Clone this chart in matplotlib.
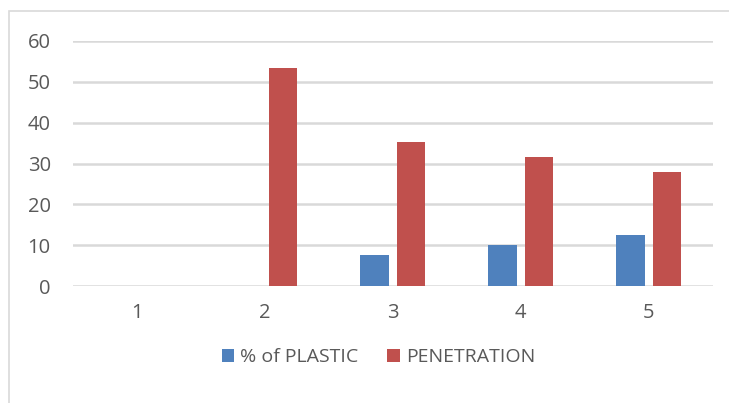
import matplotlib.pyplot as plt
import numpy as np
from matplotlib.patches import Rectangle

# chart data
categories = [1, 2, 3, 4, 5]
plastic_pct = [0, 0, 7.5, 10, 12.5]
penetration = [0, 53.3, 35.3, 31.6, 28.0]
series_names = ['% of PLASTIC', 'PENETRATION']

BLUE = '#4F81BD'
RED = '#C0504D'
TEXT = '#595959'
GRID = '#D9D9D9'

plt.rcParams['font.family'] = ['Open Sans', 'DejaVu Sans']

fig = plt.figure(figsize=(7.29, 4.03), dpi=100)

# light chart-area border (runs off right/bottom like the screenshot)
fig.patches.append(Rectangle((9 / 729, -0.1), 1.2, (403 - 11) / 403 + 0.1,
                             transform=fig.transFigure, fill=False,
                             edgecolor='#D9D9D9', linewidth=1.2))

ax = fig.add_axes([73 / 729, (403 - 286) / 403, (712.7 - 73) / 729, (286 - 41) / 403])

x = np.array(categories, dtype=float)
width = 0.22
offset = 0.143
ax.bar(x - offset, plastic_pct, width, color=BLUE, label=series_names[0], zorder=3)
ax.bar(x + offset, penetration, width, color=RED, label=series_names[1], zorder=3)

ax.set_xlim(0.5, 5.5)
ax.set_ylim(0, 60)
ax.set_yticks(range(0, 61, 10))
ax.set_xticks(categories)
ax.set_xticklabels([str(c) for c in categories])

ax.grid(axis='y', color=GRID, linewidth=1.8, zorder=0)
ax.set_axisbelow(True)
for s in ax.spines.values():
    s.set_visible(False)
ax.tick_params(axis='both', length=0, labelsize=14.5, colors=TEXT)
ax.tick_params(axis='y', pad=16)
ax.tick_params(axis='x', pad=12)

leg = fig.legend(loc='center', bbox_to_anchor=(0.519, 0.114), ncol=2, frameon=False,
                 fontsize=14, handlelength=0.65, handleheight=0.65,
                 handletextpad=0.3, columnspacing=1.5)
for t in leg.get_texts():
    t.set_color(TEXT)

fig.savefig('out.png', dpi=100)
